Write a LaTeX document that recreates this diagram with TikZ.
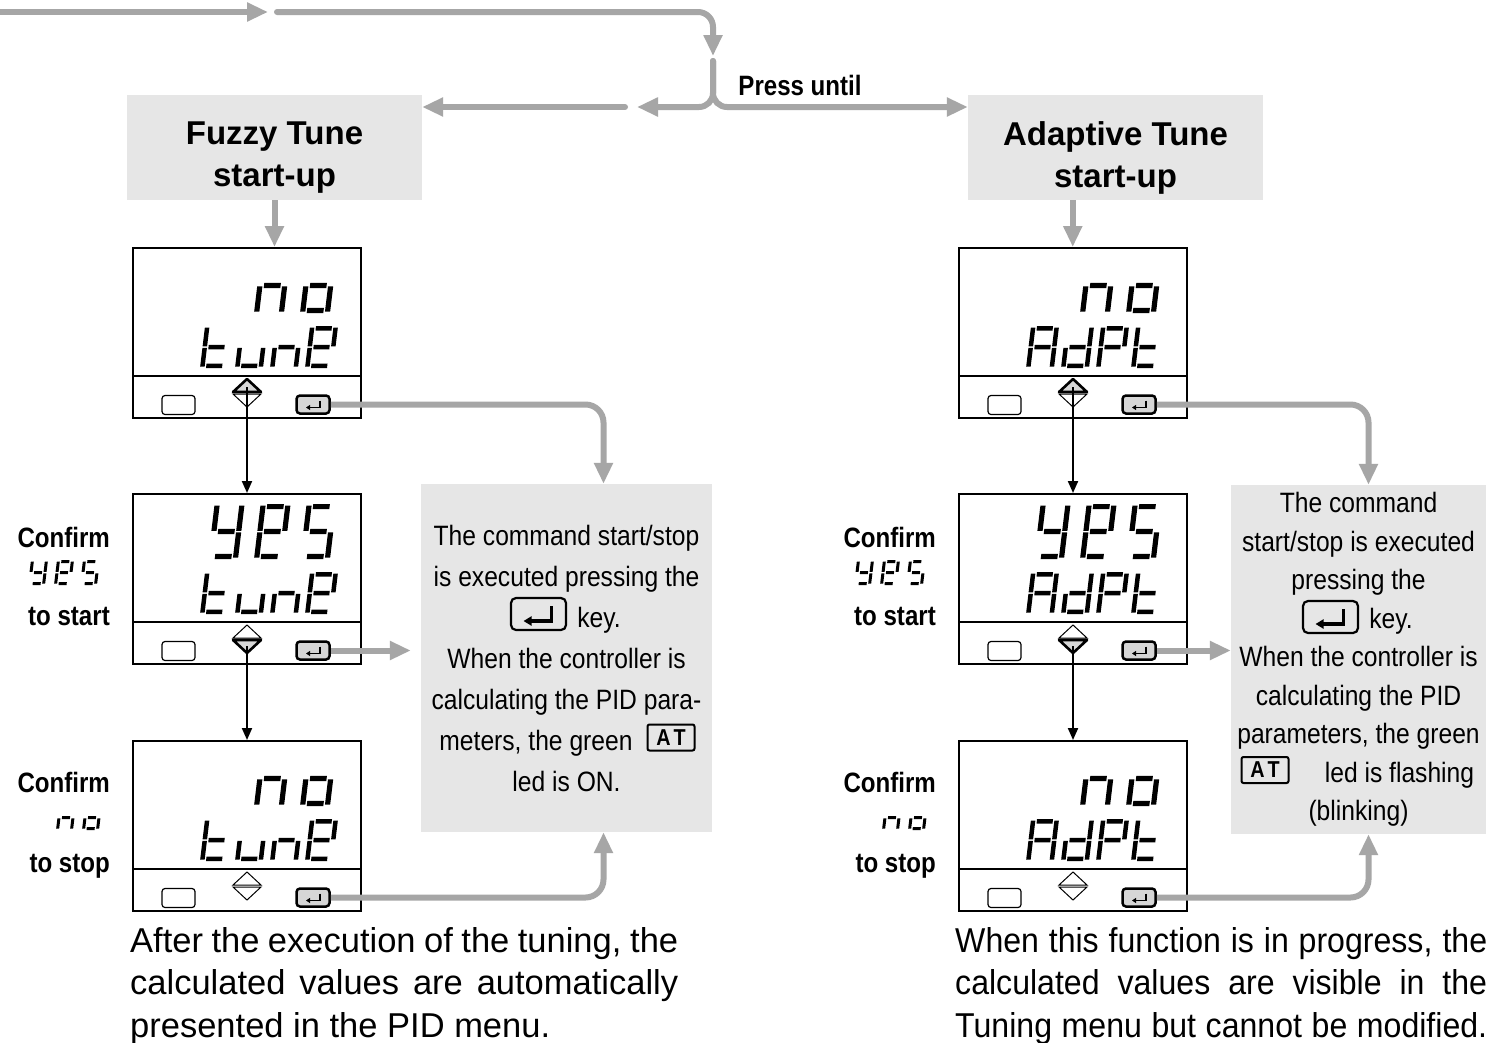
\documentclass[tikz,border=0pt]{standalone}
\usepackage{fontspec}
\setmainfont{Liberation Sans}
\newfontfamily\descfont{Liberation Sans}[FakeStretch=0.88]
\newfontfamily\labfont{Liberation Sans}[FakeStretch=0.86]
\newfontfamily\narrowbody{Liberation Sans}[FakeStretch=0.93]
\usetikzlibrary{arrows.meta}
\definecolor{cgrey}{RGB}{166,166,166}
\definecolor{boxgrey}{RGB}{230,230,230}
\definecolor{keygrey}{RGB}{214,214,214}

\newcommand\segG{1.5}
\newcommand\segbox[4]{\fill (#1,#2) -- (#3,#2) -- (#3,#4) -- (#1,#4) -- cycle;}
\newcommand\segpiece[1]{%
 \if a#1\segbox{\sgT+\segG}{\sgH-\sgT}{\sgW-\sgT-\segG}{\sgH}\fi
 \if g#1\segbox{\sgT+\segG}{\sgH/2-\sgT/2}{\sgW-\sgT-\segG}{\sgH/2+\sgT/2}\fi
 \if d#1\segbox{\sgT+\segG}{0}{\sgW-\sgT-\segG}{\sgT}\fi
 \if f#1\segbox{0}{\sgH/2+\segG/2}{\sgT}{\sgH-\segG}\fi
 \if b#1\segbox{\sgW-\sgT}{\sgH/2+\segG/2}{\sgW}{\sgH-\segG}\fi
 \if e#1\segbox{0}{\segG}{\sgT}{\sgH/2-\segG/2}\fi
 \if c#1\segbox{\sgW-\sgT}{\segG}{\sgW}{\sgH/2-\segG/2}\fi}
\newcommand\sgchar[6]{%
 \begin{scope}[shift={(#1,#2)},x={(1pt,0pt)},y={(0pt,1pt)},xslant=0.12]
  \def\sgW{#3}\def\sgH{#4}\def\sgT{#5}%
  \foreach \sgx in {#6}{\segpiece{\sgx}}%
 \end{scope}}

\newcommand\toprowno{\sgchar{122}{66}{30}{55}{5.2}{c,e,g}\sgchar{168}{66}{30}{55}{5.2}{c,d,e,g}}
\newcommand\toprowyes{\sgchar{76}{66}{30}{55}{5.2}{b,c,d,f,g}\sgchar{122}{66}{30}{55}{5.2}{a,b,d,e,f,g}\sgchar{168}{66}{30}{55}{5.2}{a,c,d,f,g}}
\newcommand\botrowtune{\sgchar{68}{121}{28}{42}{4.5}{d,e,f,g}\sgchar{103}{121}{28}{42}{4.5}{c,d,e}\sgchar{138}{121}{28}{42}{4.5}{c,e,g}\sgchar{173}{121}{28}{42}{4.5}{a,b,d,e,f,g}}
\newcommand\botrowadpt{\sgchar{68}{121}{28}{42}{4.5}{a,b,c,e,f,g}\sgchar{103}{121}{28}{42}{4.5}{b,c,d,e,g}\sgchar{138}{121}{28}{42}{4.5}{a,b,e,f,g}\sgchar{173}{121}{28}{42}{4.5}{d,e,f,g}}

\newcommand\dispunit[6]{%
 \node[dispbox, anchor=north west] (#1) at (#2,#3) {};
 \begin{scope}[shift={(#2,#3)}]
  \draw[line width=1.2pt] (0,129) -- (228,129);
  \node[blankkey] (#1b) at (46.5,158) {};
  \node[enterkey] (#1e) at (181,157.5) {};
  \draw[line width=1.6pt, -{Triangle[length=4pt,width=5pt]}] ([shift={(7,-4)}]#1e.center) -- ++(0,7) -- ++(-14,0);
  \ifcase#4
   \draw[tri] (101,145) -- (115,132) -- (129,145) -- cycle;
   \draw[tri] (101,147) -- (129,147) -- (115,160) -- cycle;
  \or
   \draw[trion] (101,145) -- (115,132) -- (129,145) -- cycle;
   \draw[tri] (101,147) -- (129,147) -- (115,160) -- cycle;
  \or
   \draw[tri] (101,145) -- (115,132) -- (129,145) -- cycle;
   \draw[trion] (101,147) -- (129,147) -- (115,160) -- cycle;
  \fi
  \coordinate (#1u) at (115,140);
  \coordinate (#1d) at (115,153);
  #5
  #6
 \end{scope}}

\begin{document}
\begin{tikzpicture}[x=1pt,y=-1pt,
  conn/.style={draw=cgrey, line width=6pt, -{Triangle[length=21pt,width=18pt]}},
  blk/.style={draw=black, line width=2pt, -{Triangle[length=12pt,width=10pt]}},
  dispbox/.style={draw, line width=1.5pt, minimum width=228pt, minimum height=170pt, inner sep=0pt, fill=white},
  blankkey/.style={draw, line width=1.2pt, rounded corners=3pt, minimum width=33pt, minimum height=19pt, inner sep=0pt, fill=white},
  enterkey/.style={draw, line width=2.5pt, rounded corners=3.5pt, minimum width=33pt, minimum height=18pt, inner sep=0pt, fill=keygrey},
  tri/.style={draw, line width=1pt, fill=white, line join=miter},
  trion/.style={draw, line width=2.6pt, fill=keygrey, line join=round},
  titlebox/.style={fill=boxgrey, minimum width=295pt, minimum height=105pt, inner sep=0pt},
  titletext/.style={inner sep=0pt, align=center, font=\fontsize{33}{42}\selectfont\bfseries},
  descbox/.style={fill=boxgrey, inner sep=0pt, align=center, font=\descfont\fontsize{28}{41}\selectfont},
  keyicon/.style={draw, line width=2.2pt, rounded corners=5pt, minimum width=55pt, minimum height=32pt, inner sep=0pt},
  aticon/.style={draw, line width=2pt, rounded corners=2pt, minimum width=47pt, minimum height=26pt, inner sep=0pt, font=\labfont\bfseries\fontsize{23}{23}\selectfont},
  lab/.style={anchor=base east, inner sep=0pt, font=\labfont\bfseries\fontsize{28}{30}\selectfont},
  body/.style={anchor=north west, inner sep=0pt, align=left, font=\fontsize{34.5}{42.5}\selectfont}]
\fill[white] (0,0) rectangle (1504,1042);
\useasboundingbox (0,0) rectangle (1504,1042);

% title boxes
\node[titlebox] (fz) at (274.5,147.5) {};
\node[titletext] (fzt) at (274.5,157.5) {Fuzzy Tune\\start-up};
\node[titlebox] (ad) at (1115.5,147.5) {};
\node[titletext] (adt) at (1115.5,157.5) {Adaptive Tune\\start-up};
\node[lab, anchor=center, font=\labfont\bfseries\fontsize{28}{28}\selectfont] (pu) at (800,85) {Press until};

% displays
\dispunit{dl1}{132}{247}{1}{\toprowno}{\botrowtune}
\dispunit{dl2}{132}{493}{2}{\toprowyes}{\botrowtune}
\dispunit{dl3}{132}{740}{0}{\toprowno}{\botrowtune}
\dispunit{dr1}{958}{247}{1}{\toprowno}{\botrowadpt}
\dispunit{dr2}{958}{493}{2}{\toprowyes}{\botrowadpt}
\dispunit{dr3}{958}{740}{0}{\toprowno}{\botrowadpt}

% side labels
\node[lab] (cl2) at (110,547) {Confirm};
\node[lab] (sl2) at (110,625) {to start};
\node[lab] (cl3) at (110,792) {Confirm};
\node[lab] (sl3) at (110,872) {to stop};
\node[lab] (cr2) at (936,547) {Confirm};
\node[lab] (sr2) at (936,625) {to start};
\node[lab] (cr3) at (936,792) {Confirm};
\node[lab] (sr3) at (936,872) {to stop};
\sgchar{28}{585}{17}{25}{3}{b,c,d,f,g}
\sgchar{54}{585}{17}{25}{3}{a,b,d,e,f,g}
\sgchar{80}{585}{17}{25}{3}{a,c,d,f,g}
\sgchar{56}{830}{17}{25}{3}{c,e,g}
\sgchar{82}{830}{17}{25}{3}{c,d,e,g}
\sgchar{854}{585}{17}{25}{3}{b,c,d,f,g}
\sgchar{880}{585}{17}{25}{3}{a,b,d,e,f,g}
\sgchar{906}{585}{17}{25}{3}{a,c,d,f,g}
\sgchar{882}{830}{17}{25}{3}{c,e,g}
\sgchar{908}{830}{17}{25}{3}{c,d,e,g}

% description boxes
\node[descbox, minimum width=291pt, minimum height=348pt] (dsl) at (566.5,658) {The command start/stop\\is executed pressing the\\\hspace*{65pt}key.\\When the controller is\\calculating the PID para-\\meters, the green\hspace*{61pt}\mbox{}\\led is ON.};
\node[keyicon] (kl) at (538.5,614) {};
\draw[line width=3.2pt, -{Triangle[length=8pt,width=9pt]}] ([shift={(13,-8)}]kl.center) -- ++(0,15) -- ++(-28,0);
\node[aticon] (atl) at (671,737.5) {A\hspace{3pt}T};

\node[descbox, minimum width=255pt, minimum height=349pt, font=\descfont\fontsize{28}{38.5}\selectfont] (dsr) at (1358.5,659.5) {The command\\start/stop is executed\\pressing the\\\hspace*{65pt}key.\\When the controller is\\calculating the PID\\parameters, the green\\\hspace*{82pt}led is flashing\\(blinking)};
\node[keyicon] (kr) at (1330.5,617) {};
\draw[line width=3.2pt, -{Triangle[length=8pt,width=9pt]}] ([shift={(13,-8)}]kr.center) -- ++(0,15) -- ++(-28,0);
\node[aticon] (atr) at (1265,770) {A\hspace{3pt}T};

% bottom texts
\node[body] (bl) at (130,927) {\makebox[548pt][s]{After the execution of the tuning, the}\\\makebox[548pt][s]{calculated values are automatically}\\presented in the PID menu.};
\node[body, font=\narrowbody\fontsize{34.5}{42.5}\selectfont] (br) at (955,927) {\makebox[532pt][s]{When this function is in progress, the}\\\makebox[532pt][s]{calculated values are visible in the}\\\makebox[532pt][s]{Tuning menu but cannot be modified.}};

% top connectors
\coordinate (src) at (0,12);
\coordinate (srcend) at (268,12);
\coordinate (ctop) at (277,12);
\coordinate (cdown) at (713,56);
\coordinate (fork) at (713,61);
\coordinate (lbreak) at (637,107);
\coordinate (lcont) at (625,107);
\draw[conn] (src) -- (srcend);
\draw[conn, line cap=round, rounded corners=15pt] (ctop) -- (ctop -| cdown) -- (cdown);
\draw[conn, line cap=round, rounded corners=14pt] (fork) -- (fork |- lbreak) -- (lbreak);
\draw[conn, line cap=round, rounded corners=14pt] (fork) -- (fork |- lbreak) -- (ad.west |- lbreak);
\draw[conn, line cap=round] (lcont) -- (fz.east |- lcont);
\draw[conn] (fz.south) -- (fz.south |- dl1.north);
\draw[conn] (ad.south -| dr1.north) -- (dr1.north);

% enter connectors
\draw[conn, rounded corners=18pt] (dl1e.east) -| ([xshift=37pt]dsl.north);
\draw[conn, shorten >=10pt] (dl2e.east) -- (dl2e.east -| dsl.west);
\draw[conn, rounded corners=18pt] (dl3e.east) -| ([xshift=37pt]dsl.south);
\draw[conn, rounded corners=18pt] (dr1e.east) -| ([xshift=10pt]dsr.north);
\draw[conn] (dr2e.east) -- (dr2e.east -| dsr.west);
\draw[conn, rounded corners=18pt] (dr3e.east) -| ([xshift=10pt]dsr.south);

% black arrows
\draw[blk] (dl1u) -- (dl1u |- dl2.north);
\draw[blk] (dl2d) -- (dl2d |- dl3.north);
\draw[blk] (dr1u) -- (dr1u |- dr2.north);
\draw[blk] (dr2d) -- (dr2d |- dr3.north);
\end{tikzpicture}
\end{document}
